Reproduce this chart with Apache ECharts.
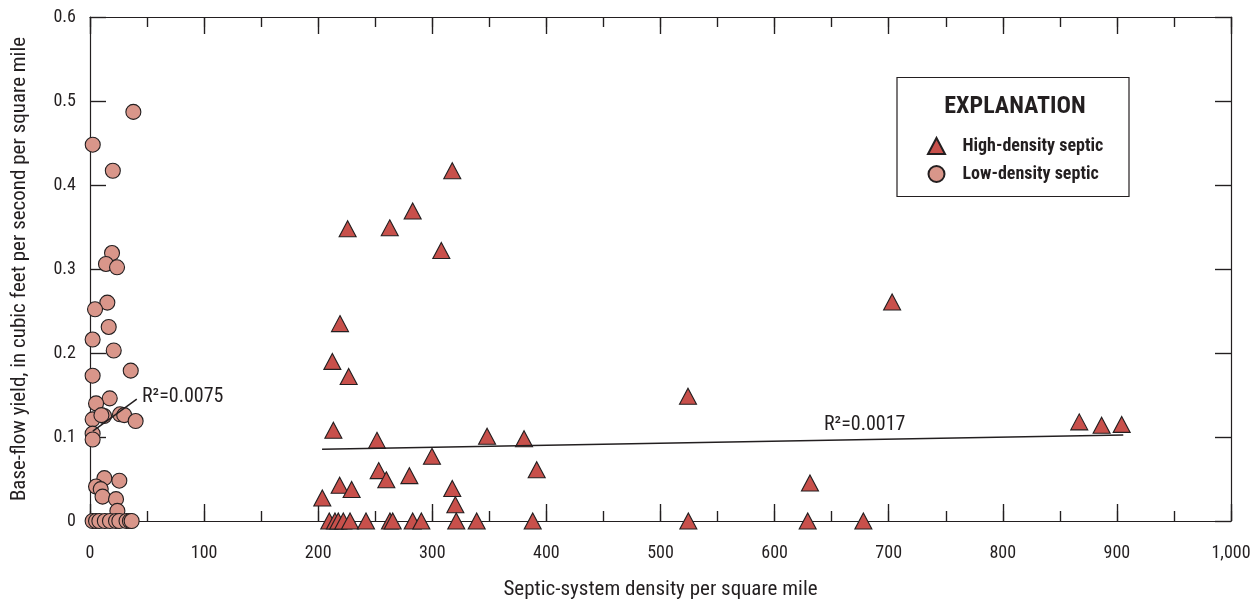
<!DOCTYPE html>
<html>
<head>
<meta charset="utf-8">
<script src="https://cdn.jsdelivr.net/npm/echarts@6/dist/echarts.min.js"></script>
<style>html,body{margin:0;padding:0;background:#fff;}#c{width:1257px;height:605px;}</style>
</head>
<body>
<div id="c"></div>
<script>
// Low-density septic (circles)
const lowX = [38,2.4,20,19.3,14,23.7,15.2,4.4,16.4,2.3,20.8,2.3,35.7,17.3,5.3,2.3,12.3,10,26.3,30,40,2.3,2.3,12.6,25.7,5.3,9.4,11,22.8,24,
  2.3,5.3,8.2,13,17.5,22.8,25.7,32,35,36.5];
const lowY = [0.487,0.448,0.417,0.319,0.306,0.302,0.260,0.252,0.231,0.216,0.203,0.173,0.179,0.146,0.140,0.121,0.125,0.126,0.127,0.126,0.119,0.104,0.097,0.051,0.048,0.041,0.038,0.029,0.026,0.012,
  0,0,0,0,0,0,0,0,0,0];
// High-density septic (triangles)
const highX = [317.5,282.8,225.8,262.7,307.9,219.1,212.4,226.7,213.3,251.5,348,380.4,299.7,253,259.7,279.9,391.5,218.8,229.3,317.5,320.2,203.6,524.1,631,703,867,886.6,904.2,
  209.7,214.7,217.6,222,227.9,241.9,262.9,265.3,282.8,290.4,321,338.9,388,524.4,629,677.8];
const highY = [0.417,0.369,0.348,0.349,0.322,0.235,0.190,0.172,0.108,0.096,0.101,0.098,0.077,0.060,0.049,0.054,0.061,0.0425,0.0375,0.0387,0.0194,0.0274,0.1486,0.0452,0.2607,0.118,0.114,0.115,
  0,0,0,0,0,0,0,0,0,0,0,0,0,0,0,0];
// Trend lines (endpoints)
const lowTrendX = [2.5, 41];
const lowTrendY = [0.107, 0.145];
const highTrendX = [203.4, 905.6];
const highTrendY = [0.0853, 0.1024];

const zip = (a,b)=>a.map((v,i)=>[v,b[i]]);
const FONT = '"Liberation Sans Narrow","Roboto Condensed","Liberation Sans",sans-serif';
const TXT = '#231f20';
const L = 90, R = 26, T = 17, B = 84;

const tickLine = {show:true, lineStyle:{color:TXT, width:1.2, type:'solid'}};
const off = {show:false};

// Thin grids whose split lines act as the inside tick marks of the frame
const tickGrids = [
  {left:L, right:R, top:605-B-17, height:17},   // 1 bottom major
  {left:L, right:R, top:605-B-10, height:10},   // 2 bottom minor
  {left:L, right:R, top:T, height:17},          // 3 top major
  {left:L, right:R, top:T, height:10},          // 4 top minor
  {left:L, width:16, top:T, bottom:B},          // 5 left
  {left:1257-R-16, width:16, top:T, bottom:B}   // 6 right
];
const tx = (g, iv)=>({gridIndex:g, type:'value', min:0, max:1000, interval:iv, show:true,
  axisLine:off, axisTick:off, axisLabel:off, splitLine:tickLine});
const ty = (g)=>({gridIndex:g, type:'value', min:0, max:0.6, interval:0.1, show:true,
  axisLine:off, axisTick:off, axisLabel:off, splitLine:tickLine});
const hid = (g)=>({gridIndex:g, type:'value', show:false});

const mainX = (extra)=>Object.assign({
  gridIndex:0, type:'value', min:0, max:1000, interval:100,
  axisLine:{show:true, onZero:false, lineStyle:{color:TXT, width:1.2}},
  axisTick:{show:true, inside:true, length:17, lineStyle:{color:TXT, width:1.2}},
  minorTick:{show:true, splitNumber:2, length:10, lineStyle:{color:TXT, width:1.2}},
  splitLine:{show:false}
}, extra);
const mainY = (extra)=>Object.assign({
  gridIndex:0, type:'value', min:0, max:0.6, interval:0.1,
  axisLine:{show:true, onZero:false, lineStyle:{color:TXT, width:1.2}},
  axisTick:{show:true, inside:true, length:16, lineStyle:{color:TXT, width:1.2}},
  splitLine:{show:false}
}, extra);

const grids = [{left:L, right:R, top:T, bottom:B}].concat(tickGrids)
  .map(g=>Object.assign({containLabel:false, outerBoundsMode:'none'}, g));

const chart = echarts.init(document.getElementById('c'));
chart.setOption({
  animation:false,
  grid:grids,
  xAxis:[
    mainX({position:'bottom', name:'Septic-system density per square mile', nameLocation:'middle', nameGap:58,
      nameTextStyle:{fontFamily:FONT, fontSize:21, color:TXT},
      axisLabel:{margin:23, fontFamily:FONT, fontSize:18, color:TXT}}),
    mainX({position:'top', axisLabel:{show:false}}),
    tx(1,100), tx(2,50), tx(3,100), tx(4,50), hid(5), hid(6)
  ],
  yAxis:[
    mainY({position:'left', name:'Base-flow yield, in cubic feet per second per square mile', nameLocation:'middle', nameGap:60,
      nameTextStyle:{fontFamily:FONT, fontSize:21, color:TXT},
      axisLabel:{margin:14, fontFamily:FONT, fontSize:18, color:TXT}}),
    mainY({position:'right', axisLabel:{show:false}}),
    hid(1), hid(2), hid(3), hid(4), ty(5), ty(6)
  ],
  legend:{
    orient:'vertical', left:922, top:132, itemGap:10, itemWidth:17, itemHeight:16,
    data:['High-density septic','Low-density septic'],
    formatter:name=>'   '+name,
    textStyle:{fontFamily:FONT, fontSize:18, fontWeight:'bold', color:TXT}
  },
  graphic:[
    {type:'rect', shape:{x:897, y:77.5, width:232, height:119}, style:{fill:'none', stroke:TXT, lineWidth:1.2}},
    {type:'text', x:1015, y:107, style:{text:'EXPLANATION', fontFamily:FONT, fontSize:24, fontWeight:'bold', fill:TXT, align:'center', verticalAlign:'middle'}},
    {type:'text', x:142, y:397, style:{text:'R²=0.0075', fontFamily:FONT, fontSize:20, fill:TXT, align:'left', verticalAlign:'middle'}},
    {type:'text', x:824, y:425, style:{text:'R²=0.0017', fontFamily:FONT, fontSize:20, fill:TXT, align:'left', verticalAlign:'middle'}}
  ],
  series:[
    {name:'highTrend', type:'line', xAxisIndex:0, yAxisIndex:0, data:zip(highTrendX,highTrendY), symbol:'none', lineStyle:{color:TXT, width:1.5}},
    {name:'Low-density septic', type:'scatter', xAxisIndex:0, yAxisIndex:0, data:zip(lowX,lowY), symbol:'circle', symbolSize:15,
      itemStyle:{color:'#d9968a', borderColor:TXT, borderWidth:1.1, opacity:1}},
    {name:'lowTrend', type:'line', xAxisIndex:0, yAxisIndex:0, data:zip(lowTrendX,lowTrendY), symbol:'none', lineStyle:{color:TXT, width:1.5}},
    {name:'High-density septic', type:'scatter', xAxisIndex:0, yAxisIndex:0, data:zip(highX,highY), symbol:'triangle', symbolSize:[17,16],
      itemStyle:{color:'#c8504b', borderColor:TXT, borderWidth:1.1, opacity:1}}
  ]
});
</script>
</body>
</html>
